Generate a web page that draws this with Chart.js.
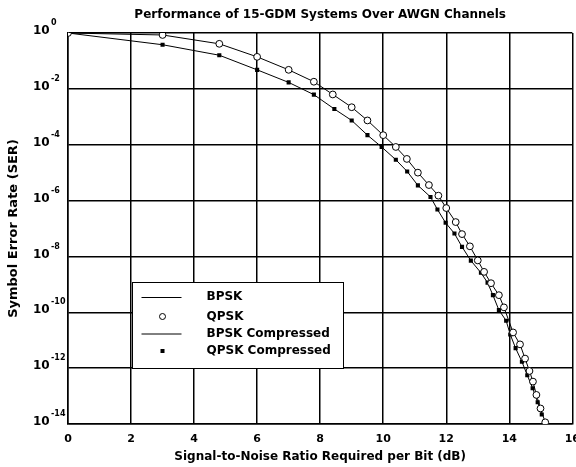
<!DOCTYPE html>
<html>
<head>
<meta charset="utf-8">
<script src="https://cdn.jsdelivr.net/npm/chart.js@4.4.1/dist/chart.umd.min.js"></script>
<style>
  html, body { margin: 0; padding: 0; background: #fff; overflow: hidden; }
  #chart-box { width: 589px; height: 467px; }
</style>
</head>
<body>
<div id="chart-box"><canvas id="serChart"></canvas></div>
<script>
const chartTitle = 'Performance of 15-GDM Systems Over AWGN Channels';
const xTitle = 'Signal-to-Noise Ratio Required per Bit (dB)';
const yTitle = 'Symbol Error Rate (SER)';

const snrTicks = [0, 2, 4, 6, 8, 10, 12, 14, 16];
const serExponents = [0, -2, -4, -6, -8, -10, -12, -14];

const legendLabels = ['BPSK', 'QPSK', 'BPSK Compressed', 'QPSK Compressed'];

// upper curve: QPSK markers (BPSK line runs through them)
const qpskSnr = [0, 3.0, 4.8, 6.0, 7.0, 7.8, 8.4, 9.0, 9.5, 10.0,
  10.4, 10.75, 11.1, 11.45, 11.75, 12.0, 12.3, 12.5, 12.75, 13.0,
  13.2, 13.42, 13.67, 13.83, 14.12, 14.34, 14.5, 14.64, 14.75, 14.86,
  14.99, 15.14];
const qpskSer = [1, 0.85, 0.41, 0.14, 0.048, 0.018, 6.3e-3, 2.2e-3, 7.4e-4, 2.2e-4,
  8.3e-5, 3.1e-5, 1.0e-5, 3.6e-6, 1.5e-6, 5.4e-7, 1.7e-7, 6.3e-8, 2.3e-8, 7.2e-9,
  2.8e-9, 1.1e-9, 4.1e-10, 1.5e-10, 1.9e-11, 7.1e-12, 2.2e-12, 7.9e-13, 3.3e-13, 1.1e-13,
  3.6e-14, 1.15e-14];

// lower curve: QPSK compressed markers (BPSK compressed line runs through them)
const qpskCompSnr = [0, 3.0, 4.8, 6.0, 7.0, 7.8, 8.45, 9.0, 9.5, 9.95,
  10.4, 10.76, 11.1, 11.5, 11.72, 11.98, 12.26, 12.5, 12.78, 13.1,
  13.31, 13.48, 13.67, 13.9, 14.03, 14.2, 14.4, 14.57, 14.74, 14.9,
  15.03];
const qpskCompSer = [1, 0.38, 0.16, 0.048, 0.017, 6.2e-3, 1.9e-3, 7.4e-4, 2.2e-4, 8.3e-5,
  2.9e-5, 1.1e-5, 3.5e-6, 1.35e-6, 4.8e-7, 1.6e-7, 6.6e-8, 2.2e-8, 7.1e-9, 2.6e-9,
  1.15e-9, 4.1e-10, 1.2e-10, 5.0e-11, 1.6e-11, 5.2e-12, 1.7e-12, 5.6e-13, 1.9e-13, 6.0e-14,
  2.2e-14];

const toPoints = (xs, ys) => xs.map((x, i) => ({ x: x, y: ys[i] }));

const FONT = '"DejaVu Sans", sans-serif';

// draws title, y tick labels with exponents and the boxed legend
const plotText = {
  id: 'plotText',
  afterDatasetsDraw(chart) {
    const { ctx, chartArea } = chart;
    const left = chartArea.left + 64.5;
    const top = chartArea.top + 249.5;
    ctx.save();
    ctx.fillStyle = '#fff';
    ctx.strokeStyle = '#000';
    ctx.lineWidth = 1;
    ctx.fillRect(left, top, 211, 86);
    ctx.strokeRect(left, top, 211, 86);

    const rows = [14.5, 34, 51, 68.5];
    ctx.font = 'bold 12px ' + FONT;
    ctx.textAlign = 'left';
    ctx.textBaseline = 'middle';
    legendLabels.forEach((label, i) => {
      const ds = chart.data.datasets.find(d => d.label === label);
      const y = top + rows[i];
      const cx = left + 30;
      ctx.fillStyle = '#000';
      if (ds.showLine && ds.pointRadius === 0) {
        ctx.beginPath();
        ctx.moveTo(left + 9, y + 0.5);
        ctx.lineTo(left + 49, y + 0.5);
        ctx.stroke();
      } else if (ds.pointStyle === 'circle') {
        ctx.beginPath();
        ctx.arc(cx, y, 3, 0, Math.PI * 2);
        ctx.stroke();
      } else {
        ctx.fillRect(cx - 2, y - 2, 4, 4);
      }
      ctx.fillText(label, left + 74, y);
    });
    ctx.restore();
  },
  afterDraw(chart) {
    const { ctx, chartArea, scales } = chart;
    ctx.save();
    ctx.fillStyle = '#000';
    ctx.textBaseline = 'middle';
    ctx.textAlign = 'center';
    ctx.font = 'bold 12px ' + FONT;
    ctx.fillText(chartTitle, (chartArea.left + chartArea.right) / 2, 15);

    ctx.textAlign = 'left';
    serExponents.forEach(e => {
      const y = scales.y.getPixelForValue(Math.pow(10, e));
      ctx.font = 'bold 12px ' + FONT;
      ctx.fillText('10', 33, y - 2);
      ctx.font = 'bold 8px ' + FONT;
      ctx.fillText(String(e), 51, y - 10);
    });
    ctx.restore();
  }
};

const ctx = document.getElementById('serChart');

const serChart = new Chart(ctx, {
  type: 'scatter',
  data: {
    datasets: [
      {
        label: 'QPSK',
        data: toPoints(qpskSnr, qpskSer),
        showLine: false,
        pointStyle: 'circle',
        pointRadius: 3.4,
        pointBorderWidth: 1,
        pointBorderColor: '#000',
        pointBackgroundColor: '#fff'
      },
      {
        label: 'QPSK Compressed',
        data: toPoints(qpskCompSnr, qpskCompSer),
        showLine: false,
        pointStyle: 'rect',
        pointRadius: 2.9,
        pointBorderWidth: 0,
        pointBorderColor: '#000',
        pointBackgroundColor: '#000'
      },
      {
        label: 'BPSK',
        data: toPoints(qpskSnr, qpskSer),
        showLine: true,
        pointRadius: 0,
        borderColor: '#000',
        borderWidth: 1
      },
      {
        label: 'BPSK Compressed',
        data: toPoints(qpskCompSnr, qpskCompSer),
        showLine: true,
        pointRadius: 0,
        borderColor: '#000',
        borderWidth: 1
      }
    ]
  },
  options: {
    responsive: true,
    maintainAspectRatio: false,
    animation: false,
    events: [],
    layout: { padding: { top: 33, left: 0, right: 0, bottom: 0 } },
    plugins: {
      legend: { display: false },
      title: { display: false },
      tooltip: { enabled: false }
    },
    scales: {
      x: {
        type: 'linear',
        min: 0,
        max: 16,
        afterBuildTicks: (scale) => { scale.ticks = snrTicks.map(v => ({ value: v })); },
        afterFit: (scale) => { scale.height = 43; },
        grid: { color: '#000', lineWidth: 1.5, drawTicks: false },
        border: { color: '#000', width: 1.5 },
        ticks: {
          color: '#000',
          padding: 9,
          font: { family: FONT, size: 11, weight: 'bold' }
        },
        title: {
          display: true,
          text: xTitle,
          color: '#000',
          font: { family: FONT, size: 12, weight: 'bold' },
          padding: { top: 2, bottom: 3 }
        }
      },
      y: {
        type: 'logarithmic',
        min: 1e-14,
        max: 1,
        afterBuildTicks: (scale) => { scale.ticks = serExponents.map(e => ({ value: Math.pow(10, e) })); },
        afterFit: (scale) => { scale.width = 68; },
        grid: { color: '#000', lineWidth: 1.5, drawTicks: false },
        border: { color: '#000', width: 1.5 },
        ticks: { display: false },
        title: {
          display: true,
          text: yTitle,
          color: '#000',
          font: { family: FONT, size: 13, weight: 'bold' },
          padding: { top: 6, bottom: 0 }
        }
      }
    }
  },
  plugins: [plotText]
});
</script>
</body>
</html>
